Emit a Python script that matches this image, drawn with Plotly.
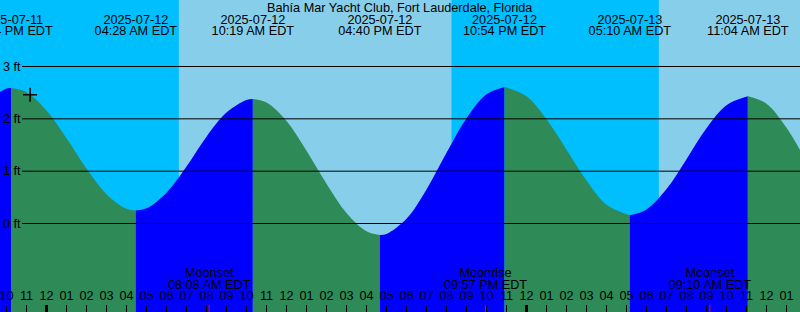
import plotly.graph_objects as go

TITLE = "Bahía Mar Yacht Club, Fort Lauderdale, Florida"

# time axis: hours relative to 2025-07-12 00:00 EDT
VIEW_START = -2.325
VIEW_END = 37.675
Y_BOT, Y_TOP = -1.691, 4.271

# tide extremes (high / low)
EXT_T = [-1.767, 4.467, 10.317, 16.667, 22.9, 29.167, 35.067]
EXT_H = [2.59, 0.25, 2.38, -0.22, 2.61, 0.16, 2.43]
EXT_DATE = ["2025-07-11", "2025-07-12", "2025-07-12", "2025-07-12",
            "2025-07-12", "2025-07-13", "2025-07-13"]
EXT_CLOCK = ["10:14 PM EDT", "04:28 AM EDT", "10:19 AM EDT", "04:40 PM EDT",
             "10:54 PM EDT", "05:10 AM EDT", "11:04 AM EDT"]

# hourly tide level readings (ft)
READ_T = list(range(-3, 39))
READ_H = [2.34, 2.58, 2.51, 2.16, 1.63, 1.05, 0.56, 0.28, 0.29, 0.59,
          1.09, 1.66, 2.12, 2.36, 2.31, 1.96, 1.39, 0.76, 0.20, -0.15,
          -0.20, 0.09, 0.65, 1.35, 2.01, 2.47, 2.61, 2.43, 1.99, 1.41,
          0.82, 0.36, 0.16, 0.27, 0.66, 1.23, 1.82, 2.26, 2.43, 2.29,
          1.83, 1.18]

# sun (day = light background)
SUNRISE_T = [6.617, 30.617]
SUNSET_T = [20.25, 44.25]

# moon events
MOON_T = [-2.93, 8.133, 21.95, 33.167]
MOON_EVENT = ["Moonrise", "Moonset", "Moonrise", "Moonset"]
MOON_CLOCK = ["09:04 PM EDT", "08:08 AM EDT", "09:57 PM EDT", "09:10 AM EDT"]

# current time mark
NOW_T = [-0.82]
NOW_H = [2.46]

LEVEL_TICKS = [0, 1, 2, 3]
HOUR_T = list(range(-3, 39))
HOUR_LABELS = ["%02d" % ((h % 24) % 12 or 12) for h in HOUR_T]
MIDNIGHT_T = [0, 24]

FONT = "Liberation Sans, Arial, sans-serif"
FS = 12.7
NIGHT = "#00BFFF"
DAY = "#87CEEB"
RISE = "#0000FF"
FALL = "#2E8B57"
W, H = 800, 312

fig = go.Figure()

# ---- tide curve, filled: blue when rising, green when falling
pts = [(t, h) for t, h in zip(READ_T, READ_H)
       if min(abs(t - e) for e in EXT_T) > 0.2]
pts += list(zip(EXT_T, EXT_H))
pts.sort()
bounds = [READ_T[0]] + EXT_T + [READ_T[-1]]
for a, b in zip(bounds[:-1], bounds[1:]):
    seg = [p for p in pts if a - 1e-9 <= p[0] <= b + 1e-9]
    rising = seg[-1][1] > seg[0][1]
    fig.add_trace(go.Scatter(x=[a, b], y=[Y_BOT - 1, Y_BOT - 1], mode="lines",
                             line=dict(width=0), showlegend=False,
                             hoverinfo="skip"))
    fig.add_trace(go.Scatter(x=[p[0] for p in seg], y=[p[1] for p in seg],
                             mode="lines",
                             line=dict(width=0, shape="spline"),
                             fill="tonexty",
                             fillcolor=RISE if rising else FALL,
                             showlegend=False, hoverinfo="skip"))

# current-time cross
fig.add_trace(go.Scatter(x=NOW_T, y=NOW_H, mode="markers",
                         marker=dict(symbol="cross-thin", size=10,
                                     line=dict(width=1.5, color="black")),
                         showlegend=False, hoverinfo="skip"))

txt = dict(mode="text", yaxis="y2", cliponaxis=False, showlegend=False,
           hoverinfo="skip", textposition="middle center",
           textfont=dict(family=FONT, size=FS, color="black"))

# extreme labels (top)
fig.add_trace(go.Scatter(x=EXT_T, y=[20.5] * len(EXT_T), text=EXT_DATE, **txt))
fig.add_trace(go.Scatter(x=EXT_T, y=[32.3] * len(EXT_T), text=EXT_CLOCK, **txt))
# moon labels (bottom)
fig.add_trace(go.Scatter(x=MOON_T, y=[273.8] * len(MOON_T), text=MOON_EVENT, **txt))
fig.add_trace(go.Scatter(x=MOON_T, y=[285.8] * len(MOON_T), text=MOON_CLOCK, **txt))
# hour labels
fig.add_trace(go.Scatter(x=HOUR_T, y=[297.3] * len(HOUR_T), text=HOUR_LABELS, **txt))

shapes = []
for r, s in zip(SUNRISE_T, SUNSET_T):
    shapes.append(dict(type="rect", xref="x", x0=r, x1=s, yref="paper",
                       y0=0, y1=1, fillcolor=DAY, line=dict(width=0),
                       layer="below"))
for lv in LEVEL_TICKS:
    shapes.append(dict(type="line", xref="paper", x0=22 / W, x1=1,
                       yref="y", y0=lv, y1=lv,
                       line=dict(color="black", width=1)))
for t in MIDNIGHT_T:
    shapes.append(dict(type="line", xref="x", x0=t, x1=t, yref="paper",
                       y0=0, y1=7 / H, line=dict(color="black", width=3)))
for t in MOON_T:
    shapes.append(dict(type="line", xref="x", x0=t, x1=t, yref="paper",
                       y0=0, y1=7 / H, line=dict(color="red", width=1)))

annotations = [dict(text=TITLE, xref="paper", x=0.5, xanchor="center",
                    yref="y2", y=7.5, yanchor="middle", showarrow=False,
                    font=dict(family=FONT, size=FS, color="black"))]
for lv in LEVEL_TICKS:
    annotations.append(dict(text="%d ft" % lv, xref="paper", x=0,
                            xanchor="left", xshift=1, yref="y", y=lv,
                            yanchor="middle", showarrow=False,
                            font=dict(family=FONT, size=FS, color="black")))

fig.update_layout(
    width=W, height=H, margin=dict(l=0, r=0, t=0, b=0, pad=0),
    plot_bgcolor=NIGHT, paper_bgcolor=NIGHT,
    shapes=shapes, annotations=annotations, showlegend=False,
    xaxis=dict(range=[VIEW_START, VIEW_END], showgrid=False, zeroline=False,
               showline=False, tickmode="linear", tick0=0, dtick=1,
               ticks="inside", ticklen=7, tickwidth=1, tickcolor="black",
               showticklabels=False, fixedrange=True),
    yaxis=dict(range=[Y_BOT, Y_TOP], showgrid=False, zeroline=False,
               showline=False, showticklabels=False, ticks="",
               fixedrange=True),
    yaxis2=dict(range=[H, 0], overlaying="y", visible=False,
                fixedrange=True),
)

fig.write_html("out.html", config={"displayModeBar": False})
